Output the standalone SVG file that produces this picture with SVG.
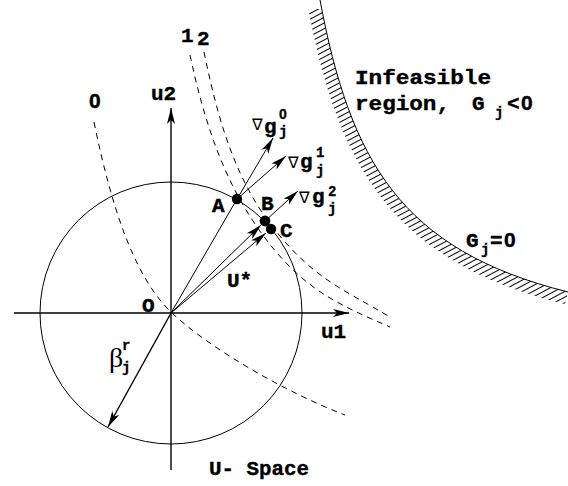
<svg xmlns="http://www.w3.org/2000/svg" width="568" height="486" viewBox="0 0 568 486">
<style>
  .ln { fill: none; stroke: #000; stroke-width: 1; }
  .ax { fill: none; stroke: #000; stroke-width: 1.4; }
  .dash { fill: none; stroke: #000; stroke-width: 1; stroke-dasharray: 6 5; }
  .dot { fill: #000; }
  .lbl { font-family: "Liberation Mono", "DejaVu Sans Mono", monospace; font-weight: bold; font-size: 21px; fill: #000; stroke: #000; stroke-width: 0.4; }
  .sm { font-family: "Liberation Mono", "DejaVu Sans Mono", monospace; font-weight: bold; font-size: 14px; fill: #000; stroke: #000; stroke-width: 0.3; }
  .z { font-family: "Liberation Sans", Arial, sans-serif; font-weight: bold; }
  .nab { font-family: "DejaVu Sans", sans-serif; font-size: 16px; fill: #000; }
  .gk { font-family: "Liberation Serif", "DejaVu Serif", serif; font-size: 28px; fill: #000; }
</style>
<defs>
  <marker id="ah" viewBox="-17 -5 18 10" refX="0" refY="0" markerWidth="18" markerHeight="10" markerUnits="userSpaceOnUse" orient="auto">
    <path d="M0,0 L-16,-4 L-12,0 L-16,4 Z" fill="#000"/>
  </marker>
  <pattern id="hatch" width="20" height="5" patternUnits="userSpaceOnUse" patternTransform="rotate(-28)">
    <line x1="0" y1="2.5" x2="20" y2="2.5" stroke="#000" stroke-width="1"/>
  </pattern>
  <clipPath id="hclip"><rect x="0" y="9" width="568" height="477"/></clipPath>
</defs>

<g id="infeasible-boundary">
  <path d="M320 0 C350 160, 400 250, 568 292 L565 304 C392 262, 337 166, 307 2 Z" fill="url(#hatch)" clip-path="url(#hclip)"/>
  <path class="ln" d="M320 0 C350 160, 400 250, 568 292"/>
  <text class="lbl" x="355" y="84" textLength="136" lengthAdjust="spacingAndGlyphs">Infeasible</text>
  <text class="lbl" x="355" y="110" textLength="95" lengthAdjust="spacingAndGlyphs">region,</text>
  <text class="lbl" x="472" y="110">G</text>
  <text class="sm" x="495" y="117">j</text>
  <text class="lbl" x="507" y="110">&lt;<tspan class="z" x="521">0</tspan></text>
  <text class="lbl" x="466" y="247">G</text>
  <text class="sm" x="481" y="254">j</text>
  <text class="lbl" x="490" y="247">=<tspan class="z" x="504">0</tspan></text>
</g>

<g id="curve-0">
  <path class="dash" d="M94 122 C112 210, 135 278, 172 313 S285 392, 345 415"/>
  <text class="lbl z" x="89" y="108">0</text>
</g>
<g id="curve-1">
  <path class="dash" d="M190 55 C205 125, 225 185, 265 238 S340 305, 390 327"/>
  <text class="lbl" x="181" y="42">1</text>
</g>
<g id="curve-2">
  <path class="dash" d="M204 52 C218 120, 235 180, 275 230 S345 290, 390 317"/>
  <text class="lbl" x="197" y="45">2</text>
</g>

<g id="u-space-circle">
  <circle class="ln" cx="171" cy="313" r="131"/>
  <text class="lbl" x="209" y="475" textLength="100" lengthAdjust="spacingAndGlyphs">U- Space</text>
</g>

<g id="connectors">
  <line class="ax" x1="14" y1="313" x2="349" y2="313" marker-end="url(#ah)"/>
  <line class="ax" x1="171" y1="470" x2="171" y2="108" marker-end="url(#ah)"/>
  <line class="ln" x1="171" y1="313" x2="237" y2="199"/>
  <line class="ln" x1="171" y1="313" x2="261" y2="225" marker-end="url(#ah)"/>
  <line class="ln" x1="171" y1="313" x2="266" y2="233" marker-end="url(#ah)"/>
  <line class="ax" x1="171" y1="313" x2="108" y2="427" marker-end="url(#ah)"/>
  <line class="ln" x1="237" y1="199" x2="273" y2="138" marker-end="url(#ah)"/>
  <line class="ln" x1="237" y1="199" x2="286" y2="156" marker-end="url(#ah)"/>
  <line class="ln" x1="265" y1="221" x2="298" y2="191" marker-end="url(#ah)"/>
</g>

<g id="axis-labels">
  <text class="lbl" x="151" y="100">u2</text>
  <text class="lbl" x="321" y="338">u1</text>
  <text class="lbl" x="142" y="312">O</text>
  <text class="lbl" x="227" y="287">U*</text>
</g>

<g id="beta">
  <text class="gk" x="109" y="367">β</text>
  <text class="sm" x="122" y="350">r</text>
  <text class="sm" x="122" y="372">j</text>
</g>

<g id="point-A">
  <circle class="dot" cx="237" cy="199" r="5.2"/>
  <text class="lbl" x="212" y="212">A</text>
</g>
<g id="point-B">
  <circle class="dot" cx="265" cy="221" r="5.4"/>
  <text class="lbl" x="261" y="210">B</text>
</g>
<g id="point-C">
  <circle class="dot" cx="271" cy="229" r="5.2"/>
  <text class="lbl" x="280" y="237">C</text>
</g>

<g id="grad-0">
  <text class="nab" x="252" y="130">∇</text>
  <text class="lbl" x="264" y="133">g</text>
  <text class="sm z" x="279" y="119">0</text>
  <text class="sm" x="279" y="136">j</text>
</g>
<g id="grad-1">
  <text class="nab" x="288" y="168">∇</text>
  <text class="lbl" x="300" y="168">g</text>
  <text class="sm" x="316" y="157">1</text>
  <text class="sm" x="316" y="175">j</text>
</g>
<g id="grad-2">
  <text class="nab" x="299" y="203">∇</text>
  <text class="lbl" x="312" y="203">g</text>
  <text class="sm" x="328" y="196">2</text>
  <text class="sm" x="328" y="213">j</text>
</g>
</svg>
